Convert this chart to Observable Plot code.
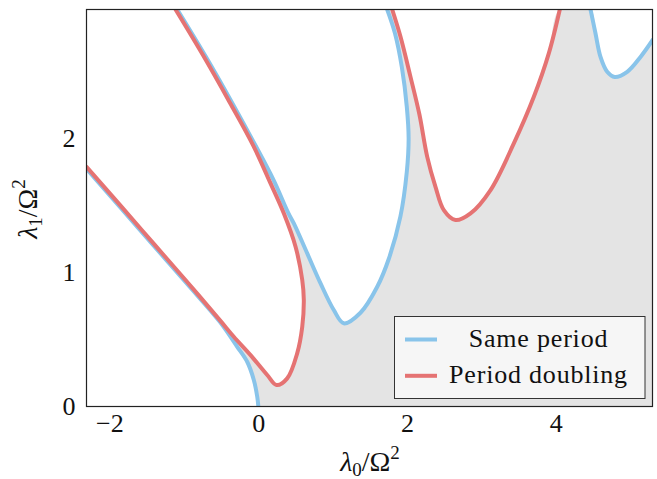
<!DOCTYPE html>
<html><head><meta charset="utf-8">
<script src="https://cdn.jsdelivr.net/npm/d3@7"></script>
<script src="https://cdn.jsdelivr.net/npm/@observablehq/plot@0.6"></script>
<style>body{margin:0;background:#fff} svg{display:block}</style>
</head><body><div id="chart"></div>
<script>
// ---- data ----
const xTicks = [-2, 0, 2, 4];
const yTicks = [0, 1, 2];
const seriesNames = ["Same period", "Period doubling"];
const seriesColors = ["#89c4ea", "#e57373"];

// Same period, curve starting at origin
const blue0X = [-0.005, -0.02, -0.066, -0.155, -0.289, -0.52, -0.97, -1.418, -1.866, -2.315];
const blue0Y = [0, 0.073, 0.198, 0.334, 0.446, 0.63, 0.92, 1.205, 1.49, 1.775];
// Period doubling, first tongue
const red1X = [-2.315, -1.866, -1.418, -0.970, -0.523, -0.335, -0.110, 0.114, 0.239, 0.383, 0.517, 0.585, 0.606, 0.585, 0.495, 0.337, 0.159, -0.075, -0.389, -0.746, -1.118];
const red1Y = [1.79, 1.505, 1.22, 0.935, 0.645, 0.521, 0.384, 0.235, 0.160, 0.210, 0.397, 0.596, 0.795, 0.944, 1.193, 1.442, 1.666, 1.95, 2.27, 2.62, 2.964];
// Same period, second tongue
const blue2X = [-1.095, -0.72, -0.36, -0.045, 0.20, 0.40, 0.472, 0.652, 0.831, 1.009, 1.144, 1.368, 1.593, 1.75, 1.904, 1.99, 2.015, 1.99, 1.925, 1.832, 1.727];
const blue2Y = [2.964, 2.62, 2.27, 1.95, 1.69, 1.442, 1.367, 1.143, 0.919, 0.72, 0.621, 0.70, 0.894, 1.105, 1.417, 1.75, 2.0, 2.24, 2.53, 2.785, 2.964];
// Period doubling, third tongue
const red3X = [1.794, 1.906, 2.04, 2.16, 2.265, 2.376, 2.488, 2.645, 2.847, 3.116, 3.429, 3.698, 3.899, 4.047];
const red3Y = [2.964, 2.76, 2.461, 2.18, 1.864, 1.64, 1.466, 1.392, 1.442, 1.616, 1.964, 2.312, 2.636, 2.964];
// Same period, fourth tongue
const blue4X = [4.46, 4.527, 4.594, 4.684, 4.785, 4.953, 5.132, 5.293];
const blue4Y = [2.964, 2.785, 2.61, 2.499, 2.46, 2.499, 2.61, 2.735];
// extent of the plotted region
const xDomain = [-2.315, 5.293];
const yDomain = [0, 2.964];

// ---- build tables ----
const pts = (xs, ys, curve) => xs.map((x, i) => ({x, y: ys[i], curve}));
const blueRows = [...pts(blue0X, blue0Y, "b0"), ...pts(blue2X, blue2Y, "b2"), ...pts(blue4X, blue4Y, "b4")];
const redRows = [...pts(red1X, red1Y, "r1"), ...pts(red3X, red3Y, "r3")];

// stable (shaded) region: bounded by the curves, the bottom and right edges
const grayPoly = [
  ...pts(blue0X.slice(0, 5), blue0Y.slice(0, 5)),
  ...pts(red1X.slice(5, 17), red1Y.slice(5, 17)),
  ...pts(blue2X.slice(4), blue2Y.slice(4)),
  ...pts(red3X, red3Y),
  ...pts(blue4X, blue4Y),
  {x: xDomain[1], y: 1.4}, {x: xDomain[1], y: 0},
  {x: 2.6, y: 0}, {x: blue0X[0], y: 0}
];

const FONT = "'Liberation Serif', 'DejaVu Serif', 'Noto Serif', serif";
const fmt = d => String(d).replace("-", "\u2212");

const chart = Plot.plot({
  width: 657, height: 479,
  marginTop: 9, marginRight: 5, marginBottom: 73, marginLeft: 86,
  style: {fontFamily: FONT, fontSize: "26px", background: "#fff", color: "#111"},
  x: {domain: xDomain, ticks: xTicks, tickFormat: fmt, tickSize: 0, tickPadding: 7, label: null},
  y: {domain: yDomain, ticks: yTicks, tickFormat: fmt, tickSize: 0, tickPadding: 11, label: null},
  marks: [
    Plot.line(grayPoly, {x: "x", y: "y", fill: "#e4e4e4", stroke: "none", curve: "catmull-rom", clip: true}),
    Plot.line(blueRows, {x: "x", y: "y", z: "curve", stroke: seriesColors[0], strokeWidth: 4, curve: "catmull-rom", clip: true}),
    Plot.line(redRows, {x: "x", y: "y", z: "curve", stroke: seriesColors[1], strokeWidth: 4, curve: "catmull-rom", clip: true}),
    Plot.frame({stroke: "#222", strokeWidth: 1.2})
  ]
});
document.getElementById("chart").appendChild(chart);
chart.querySelectorAll("text").forEach(t => t.style.fontFamily = FONT);

// ---- axis labels and legend ----
const svg = d3.select(chart);
const xl = svg.append("text").attr("x", 370).attr("y", 471).attr("text-anchor", "middle")
  .style("font-family", FONT).attr("font-size", 28).attr("fill", "#111");
xl.append("tspan").attr("font-style", "italic").text("λ");
xl.append("tspan").attr("font-size", 19).attr("dy", 5).text("0");
xl.append("tspan").attr("dy", -5).text("/Ω");
xl.append("tspan").attr("font-size", 19).attr("dy", -12).text("2");

const yl = svg.append("text").attr("transform", "translate(37,209) rotate(-90)").attr("text-anchor", "middle")
  .style("font-family", FONT).attr("font-size", 28).attr("fill", "#111");
yl.append("tspan").attr("font-style", "italic").text("λ");
yl.append("tspan").attr("font-size", 19).attr("dy", 5).text("1");
yl.append("tspan").attr("dy", -5).text("/Ω");
yl.append("tspan").attr("font-size", 19).attr("dy", -12).text("2");

const lg = svg.append("g");
lg.append("rect").attr("x", 394.5).attr("y", 316.5).attr("width", 250.5).attr("height", 82)
  .attr("fill", "#f6f6f6").attr("stroke", "#333").attr("stroke-width", 1);
seriesNames.forEach((name, i) => {
  const cy = 339.5 + i * 36.3;
  lg.append("line").attr("x1", 405).attr("x2", 437).attr("y1", cy).attr("y2", cy)
    .attr("stroke", seriesColors[i]).attr("stroke-width", 4);
  lg.append("text").attr("x", 538.5).attr("y", cy + 7.5).attr("text-anchor", "middle")
    .style("font-family", FONT).attr("font-size", 26).attr("fill", "#111")
    .attr("letter-spacing", 0.8).text(name);
});
</script>
</body></html>
